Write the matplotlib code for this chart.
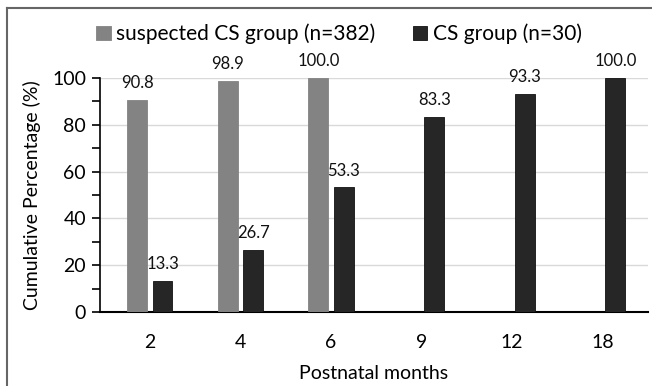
import matplotlib
matplotlib.use("Agg")
import matplotlib.pyplot as plt
import numpy as np
from matplotlib.lines import Line2D
from matplotlib.ticker import MultipleLocator

months = ["2", "4", "6", "9", "12", "18"]
suspected = [90.8, 98.9, 100.0, None, None, None]
cs = [13.3, 26.7, 53.3, 83.3, 93.3, 100.0]
series_names = ["suspected CS group (n=382)", "CS group (n=30)"]
colors = ["#838383", "#262626"]

plt.rcParams['font.family'] = ['Lato', 'DejaVu Sans']

fig = plt.figure(figsize=(6.52, 3.86), dpi=100)
ax = fig.add_axes([100/652, 1-312/386, 548/652, 234/386])

x = np.arange(len(months))
w = 0.22
off = 0.14
for i, (vals, c) in enumerate(zip([suspected, cs], colors)):
    xs = [xi + (off if i else -off) for xi, v in zip(x, vals) if v is not None]
    vs = [v for v in vals if v is not None]
    ax.bar(xs, vs, width=w, color=c, edgecolor="#111111" if i else c,
           linewidth=0.6, zorder=3, label=series_names[i])
    for xx, v in zip(xs, vs):
        ax.annotate(f"{v:.1f}", (xx, v), xytext=(0, 12), textcoords="offset points",
                    ha="center", va="center", fontsize=12, color="#111111")

ax.set_xlim(-0.55, 5.5)
ax.set_ylim(0, 100)
ax.set_xticks(x)
ax.set_xticklabels(months, fontsize=14)
ax.tick_params(axis='x', length=0, pad=16)
ax.yaxis.set_major_locator(MultipleLocator(20))
ax.yaxis.set_minor_locator(MultipleLocator(10))
ax.tick_params(axis='y', which='both', direction='out', length=6, width=1.2, labelsize=14, pad=4)
ax.grid(axis='y', which='major', color="#d9d9d9", linewidth=1, zorder=0)
for s in ['top', 'right']:
    ax.spines[s].set_visible(False)
ax.spines['left'].set_linewidth(1.2)
ax.spines['bottom'].set_linewidth(1.5)
ax.set_ylabel("Cumulative Percentage (%)", fontsize=14, labelpad=8)
ax.set_xlabel("Postnatal months", fontsize=14, labelpad=10)

fig.legend(loc='center', bbox_to_anchor=(0.52, 1-34/386), ncol=2, frameon=False,
           fontsize=15, handlelength=0.7, handleheight=0.7, handletextpad=0.25,
           columnspacing=1.8, borderaxespad=0)

fig.add_artist(Line2D([7/652, 7/652], [0, 1-8/386], color="#666666", linewidth=1.5))
fig.add_artist(Line2D([7/652, 1], [1-8/386, 1-8/386], color="#666666", linewidth=1.5))

fig.savefig("out.png", dpi=100)
